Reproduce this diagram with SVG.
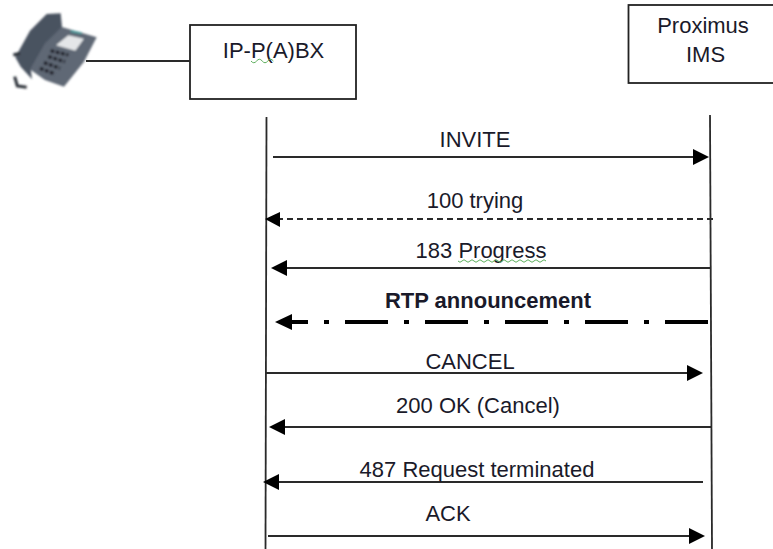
<svg xmlns="http://www.w3.org/2000/svg" width="773" height="549" viewBox="0 0 773 549">
<style>
text{font-family:"Liberation Sans",Arial,sans-serif;font-size:22px;fill:#1a1a2a}
.c{text-anchor:middle}
.box{fill:#fff;stroke:#222;stroke-width:1.800}
.l{stroke:#2a2a2a;stroke-width:1.800;fill:none}
.h{fill:#000}
.sq{fill:none;stroke:#5cae5c;stroke-width:1}
</style>
<defs><filter id="soft" x="-10%" y="-10%" width="120%" height="120%"><feGaussianBlur stdDeviation="2.500"/></filter></defs>
<rect width="773" height="549" fill="#fff"/>
<g id="phone" transform="scale(0.3333)">
<g filter="url(#soft)">
<path d="M175 78L290 112L252 185L192 260L135 240L85 205L120 125Z" fill="#5e6774"/>
<path d="M140 42L182 40L186 80L135 130L92 205L96 238L62 200L46 172L90 92Z" fill="#4a5360"/>
<path d="M168 136L205 106L252 116L226 152Z" fill="#e4e6e8"/>
<path d="M212 94L245 100" stroke="#4a9a9a" stroke-width="6" fill="none"/>
<path d="M152 152L205 165M120 205L165 222M132 188L180 205M145 170L195 185" stroke="#1c1f26" stroke-width="10" stroke-dasharray="11 5" fill="none"/>
<path d="M40 165L60 160M44 230L52 258L80 262" stroke="#2c3038" stroke-width="9" fill="none"/>
</g>
</g>
<g id="ipbx">
<rect class="box" x="190" y="25" width="166" height="74"/>
<text x="273.500" y="58" class="c">IP-P(A)BX</text>
<path class="sq" d="M251 61q2.800 3.500 5.600 0t5.600 0t5.600 0t5.600 0"/>
</g>
<g id="ims">
<rect class="box" x="628.500" y="5" width="146" height="78"/>
<text x="703" y="33" class="c">Proximus</text>
<text x="705.500" y="62" class="c">IMS</text>
</g>
<g id="connectors">
<path class="l" d="M86 61H190"/>
<path class="l" d="M266.500 117L265.500 549"/>
<path class="l" d="M710 115L712 549"/>
<path class="l" d="M273 157H696"/><path class="h" d="M709 157L693 149V165Z"/>
<path class="l" d="M713 219H280" stroke-dasharray="6 4"/><path class="h" d="M265 219L280 212V227Z"/>
<path class="l" d="M710 268H284"/><path class="h" d="M271 268L287 260V276Z"/>
<path d="M708 322H284" fill="none" stroke="#000" stroke-width="4" stroke-dasharray="43 16 5 16"/><path class="h" d="M275 322L292 314V330Z"/>
<path class="l" d="M266 373H690"/><path class="h" d="M703 373L687 365V381Z"/>
<path class="l" d="M711 427H285"/><path class="h" d="M269 427L285 419V435Z"/>
<path class="l" d="M703 482H278"/><path class="h" d="M263 482L279 474V490Z"/>
<path class="l" d="M268 536H692"/><path class="h" d="M705 536L689 528V544Z"/>
</g>
<g id="labels">
<text x="475" y="147" class="c">INVITE</text>
<text x="475" y="208" class="c">100 trying</text>
<text x="481" y="258" class="c">183 Progress</text>
<path class="sq" d="M458 261q2 2.500 4 0t4 0t4 0t4 0t4 0t4 0t4 0t4 0t4 0t4 0t4 0t4 0t4 0t4 0t4 0t4 0t4 0t4 0t4 0t4 0t4 0t4 0"/>
<text x="488" y="308" class="c" font-weight="bold">RTP announcement</text>
<text x="470" y="369" class="c">CANCEL</text>
<text x="478" y="413" class="c">200 OK (Cancel)</text>
<text x="477" y="477" class="c">487 Request terminated</text>
<text x="448" y="521" class="c">ACK</text>
</g>
</svg>
